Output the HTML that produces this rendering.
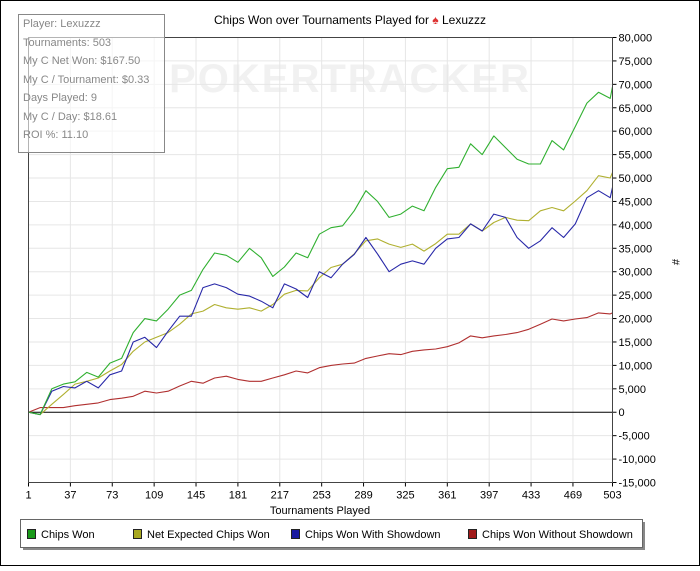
<!DOCTYPE html>
<html><head><meta charset="utf-8"><style>
body{margin:0;background:#fff;font-family:"Liberation Sans",sans-serif}
svg text{font-family:"Liberation Sans",sans-serif}
</style></head><body>
<svg id="chart" width="700" height="566" viewBox="0 0 700 566" xmlns="http://www.w3.org/2000/svg">
<rect x="0.5" y="0.5" width="699" height="565" fill="#fff" stroke="#000"/>
<text x="350" y="24" text-anchor="middle" font-size="12" fill="#000">Chips Won over Tournaments Played for <tspan fill="#d33">♠</tspan> Lexuzzz</text>
<text x="350" y="92" text-anchor="middle" font-size="40" fill="#f1f1f1" font-weight="bold" letter-spacing="2">POKERTRACKER</text>
<g id="grid"></g>
<g id="series"></g>
<g id="axes"></g>
<g>
<rect x="18.5" y="14.5" width="146" height="138" fill="rgba(255,255,255,0.6)" stroke="#888"/>
<g font-size="11" fill="#888">
<text x="23" y="27">Player: Lexuzzz</text>
<text x="23" y="46">Tournaments: 503</text>
<text x="23" y="64">My C Net Won: $167.50</text>
<text x="23" y="83">My C / Tournament: $0.33</text>
<text x="23" y="101">Days Played: 9</text>
<text x="23" y="120">My C / Day: $18.61</text>
<text x="23" y="138">ROI %: 11.10</text>
</g></g>
<text x="320" y="514" text-anchor="middle" font-size="11">Tournaments Played</text>
<text x="672" y="262" text-anchor="middle" font-size="11" transform="rotate(90 672 262)">#</text>
<g>
<rect x="23" y="522" width="622" height="28" fill="#888"/>
<rect x="20.5" y="519.5" width="622" height="28" fill="#fff" stroke="#666"/>
<g font-size="11">
<rect x="27.5" y="529.5" width="8" height="9" fill="#1a9a1a" stroke="#222"/>
<text x="41" y="538">Chips Won</text>
<rect x="133.5" y="529.5" width="8" height="9" fill="#a8a820" stroke="#222"/>
<text x="147" y="538">Net Expected Chips Won</text>
<rect x="291.5" y="529.5" width="8" height="9" fill="#1a1aa0" stroke="#222"/>
<text x="305" y="538">Chips Won With Showdown</text>
<rect x="468.5" y="529.5" width="8" height="9" fill="#a01a1a" stroke="#222"/>
<text x="482" y="538">Chips Won Without Showdown</text>
</g></g>
</svg>
<script>
const tournaments=[1,11,21,31,41,51,61,71,81,91,101,111,121,131,141,151,161,171,181,191,201,211,221,231,241,251,261,271,281,291,301,311,321,331,341,351,361,371,381,391,401,411,421,431,441,451,461,471,481,491,501,503];
const chipsWon=[0,-0.5,5,6,6.5,8.5,7.5,10.5,11.5,17,20,19.5,22,25,26,30.5,34,33.5,32,35,33,29,31,34,33,38,39.4,39.8,43,47.3,45,41.6,42.3,44,43,48,52,52.3,57.3,55,59,56.5,54,53,53,58,56,61,66,68.3,67,69.5];
const netExpected=[0,-0.5,1.7,3.8,6,6.6,7.3,8.8,10.2,13,15,16,17,18.8,21,21.6,23,22.3,22,22.3,21.6,23,25.2,26,25.9,28.7,30.9,31.6,33.8,36.6,37,35.9,35.2,35.9,34.4,36,38,38,40.2,38.7,40.5,41.6,41,40.9,43,43.7,43,45.1,47.3,50.5,50,51.2];
const withShowdown=[0,-0.5,4.5,5.5,5.2,6.6,5.2,8,8.8,15,16,13.8,17.3,20.5,20.5,26.6,27.4,26.6,25.2,24.8,23.7,22.3,27.4,26.3,24.5,30,28.7,31.6,33.7,37.3,33.8,30,31.6,32.3,31.6,35,37,37.3,40.2,38.7,42.3,41.6,37.3,35,36.6,39.4,37.3,40.2,45.8,47.3,45.8,48];
const withoutShowdown=[0,1,1,1,1.4,1.7,2,2.7,3,3.4,4.5,4.1,4.5,5.6,6.6,6.2,7.3,7.7,7,6.6,6.6,7.3,8,8.8,8.4,9.5,10,10.3,10.5,11.5,12,12.5,12.3,13,13.3,13.5,14,14.8,16.3,15.9,16.3,16.6,17,17.7,18.8,19.9,19.5,19.9,20.2,21.2,21,21.2];
const xTicks=[1,37,73,109,145,181,217,253,289,325,361,397,433,469,503];
const yTicks=[-15,-10,-5,0,5,10,15,20,25,30,35,40,45,50,55,60,65,70,75,80];
const yTickLabels=["-15,000","-10,000","-5,000","0","5,000","10,000","15,000","20,000","25,000","30,000","35,000","40,000","45,000","50,000","55,000","60,000","65,000","70,000","75,000","80,000"];

const L=28.5,R=612.5,T=37.5,B=482.5;
function xs(t){return L+(t-1)*(R-L)/502;}
function ys(v){return B-(v+15)*(B-T)/95;}
const NS="http://www.w3.org/2000/svg";
function mk(tag,attrs,parent){const e=document.createElementNS(NS,tag);for(const k in attrs)e.setAttribute(k,attrs[k]);parent.appendChild(e);return e;}
const grid=document.getElementById('grid'),axes=document.getElementById('axes'),ser=document.getElementById('series');
xTicks.forEach(t=>{
  const g=mk('line',{x1:xs(t),x2:xs(t),y1:T,y2:B,stroke:'#e6e6e6'},grid);
  
  
  const tk=mk('line',{x1:xs(t),x2:xs(t),y1:B,y2:B+4,stroke:'#000'},axes);
  
  
  const tx=mk('text',{x:xs(t),y:B+16,'text-anchor':'middle','font-size':'11'},axes);
  tx.textContent=t;
  
  
});
yTicks.forEach((v,i)=>{
  const g=mk('line',{x1:L,x2:R,y1:ys(v),y2:ys(v),stroke:v===0?'#000':'#e6e6e6'},grid);
  
  
  const tk=mk('line',{x1:R,x2:R+4,y1:ys(v),y2:ys(v),stroke:'#000'},axes);
  
  
  const tx=mk('text',{x:R+6,y:ys(v)+4,'font-size':'11'},axes);
  tx.textContent=yTickLabels[i];
  
  
});
const ax=mk('path',{d:`M${L},${T}H${R}V${B}H${L}Z`,fill:'none',stroke:'#444'},axes);


function line(vals,color,name){
  const d=vals.map((v,i)=>(i?'L':'M')+xs(tournaments[i]).toFixed(1)+','+ys(v).toFixed(1)).join('');
  const p=mk('path',{d:d,fill:'none',stroke:color,'stroke-width':'1.1','stroke-linejoin':'round'},ser);
  
  
}
line(withoutShowdown,'#b03030','line-without-showdown');
line(netExpected,'#b0b030','line-net-expected');
line(withShowdown,'#2828a8','line-with-showdown');
line(chipsWon,'#30b030','line-chips-won');
</script>
</body></html>
